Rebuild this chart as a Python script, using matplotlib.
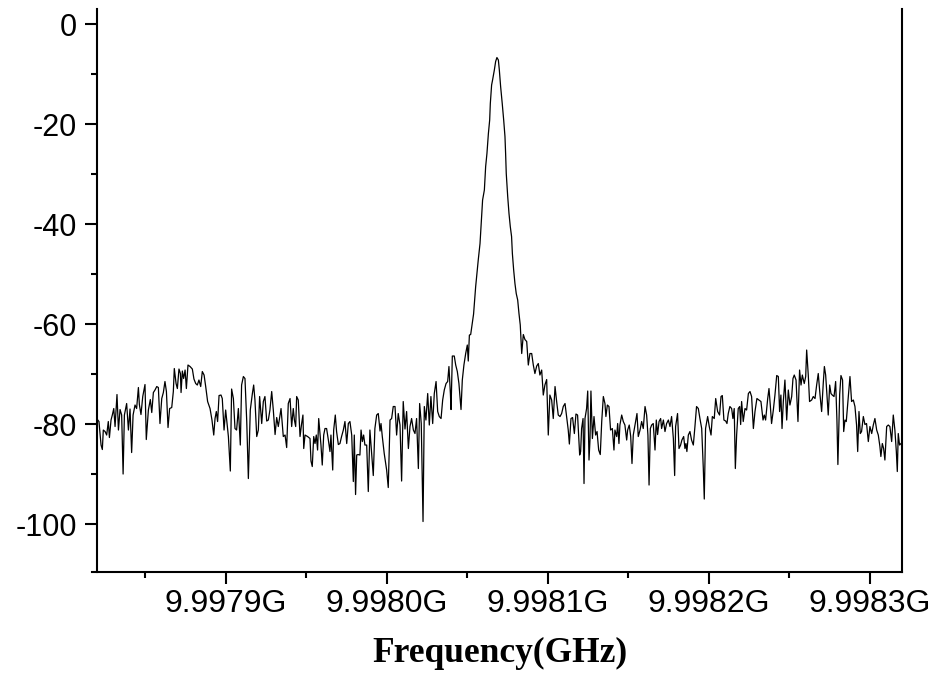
import matplotlib
matplotlib.use('Agg')
import matplotlib.pyplot as plt
import numpy as np
from matplotlib.ticker import FixedLocator, FuncFormatter

plt.rcParams['font.family'] = ['Liberation Sans', 'DejaVu Sans']
plt.rcParams['axes.unicode_minus'] = False

# sweep start (GHz); trace offsets are in kHz from here
start_ghz = 9.99782
stop_ghz = 9.99832

# noise floor, left part
seg_a_khz = [0.0, 1.2, 2.5, 3.3, 3.9, 5.0, 6.0, 7.0, 7.7, 8.7, 9.5, 10.4, 11.2, 12.4, 13.3, 14.3,
             15.3, 16.2, 17.0, 18.4, 19.5, 20.5, 21.5, 22.4, 23.6, 24.6, 25.7, 26.3, 27.3, 28.4,
             29.8, 30.6, 31.9, 33.1, 34.0, 35.0, 36.0, 37.1, 38.1, 39.1, 40.2, 41.2, 42.2, 43.1,
             44.1, 45.1, 46.4, 47.4, 48.0, 49.1, 49.9, 50.9, 51.8, 52.2, 53.0, 53.8, 54.7, 55.5,
             56.5, 57.8, 59.2, 60.2, 61.3, 62.3, 63.3, 64.4, 65.4, 66.5, 67.5, 68.7, 70.2, 71.4,
             72.5, 73.3, 74.1, 74.9, 75.8, 77.0, 77.8, 78.9, 79.9, 81.6, 82.8, 83.6, 84.7, 85.7,
             86.7, 87.8, 89.0, 89.8, 90.9, 91.9, 93.0, 94.0, 95.2, 96.5, 97.3, 98.1, 99.2, 100.2,
             101.0]
seg_a_dbm = [-79.0, -79.5, -84.2, -85.1, -81.2, -81.5, -82.2, -79.5, -82.7, -79.2, -78.2, -76.9,
             -80.5, -74.1, -81.2, -77.1, -78.2, -90.0, -78.2, -75.9, -81.2, -77.0, -85.7, -78.2,
             -76.2, -76.9, -72.7, -76.1, -78.1, -74.5, -72.1, -83.1, -77.2, -75.1, -77.7, -73.7,
             -73.2, -72.5, -72.7, -79.9, -74.9, -73.7, -71.5, -73.5, -80.7, -76.9, -76.7, -73.5,
             -68.9, -71.9, -72.9, -69.0, -69.9, -73.7, -69.4, -70.9, -69.2, -72.9, -68.2, -68.5,
             -69.0, -71.0, -71.9, -72.2, -71.2, -72.5, -69.5, -70.2, -72.5, -75.5, -76.9, -79.2,
             -82.2, -78.9, -77.5, -79.5, -74.3, -74.2, -74.9, -81.2, -77.2, -82.5, -89.4, -73.0,
             -74.9, -80.9, -81.2, -76.9, -84.2, -72.2, -70.5, -70.9, -79.5, -90.9, -77.2, -73.9,
             -72.2, -75.2, -82.5, -81.2, -74.5]

seg_b_khz = [102.3, 103.3, 104.3, 105.4, 106.4, 107.4, 108.5, 109.5, 110.6, 111.6, 112.6, 114.3,
             115.7, 116.8, 117.8, 118.8, 119.9, 120.9, 121.9, 122.6, 123.4, 124.0, 125.0, 126.1,
             127.1, 127.9, 128.4, 129.2, 130.8, 132.3, 132.9, 133.7, 134.6, 135.4, 136.2, 137.0,
             137.7, 138.3, 139.1, 139.9, 140.8, 141.6, 142.6, 143.7, 144.7, 145.3, 146.4, 147.0,
             148.0, 148.8, 149.9, 150.9, 151.9, 153.0, 154.0, 155.1, 156.1, 157.1, 158.2, 159.2,
             159.8, 160.6, 161.3, 162.1, 163.3, 164.0, 164.8, 165.6, 166.4, 167.5, 168.5, 169.5,
             170.6, 171.6, 172.6, 173.7, 174.7, 175.8, 176.4, 177.2, 178.4, 179.9, 180.9, 182.0,
             183.0, 184.0, 185.1, 186.1, 187.1, 188.2, 189.2, 190.2, 191.3, 192.3, 193.4, 194.4,
             195.4, 196.5, 197.5, 198.5, 199.6, 200.4]
seg_b_dbm = [-79.9, -75.5, -74.5, -79.4, -79.2, -77.2, -73.5, -77.2, -82.1, -78.7, -80.5, -76.9,
             -82.5, -82.2, -84.7, -75.9, -74.9, -80.5, -76.9, -79.2, -80.5, -74.5, -75.2, -82.5,
             -79.9, -78.2, -84.9, -82.2, -82.5, -82.9, -87.4, -88.5, -82.5, -83.9, -82.2, -85.2,
             -78.9, -81.2, -84.2, -88.2, -82.2, -80.9, -80.9, -83.2, -85.5, -82.2, -89.2, -81.2,
             -78.2, -81.5, -84.1, -83.9, -82.5, -81.2, -79.5, -83.9, -79.9, -79.5, -82.2, -91.5,
             -82.2, -94.1, -86.2, -86.1, -86.2, -81.2, -83.5, -82.2, -84.2, -84.2, -93.5, -81.2,
             -85.9, -90.3, -80.9, -78.2, -77.9, -81.4, -79.9, -82.5, -85.9, -89.2, -92.7, -79.2,
             -78.9, -76.5, -76.5, -82.2, -77.9, -80.2, -91.4, -75.5, -81.0, -77.5, -84.9, -80.5,
             -78.9, -81.2, -81.9, -78.9, -88.9, -75.9]

# rising skirt
seg_c_khz = [201.4, 202.5, 203.3, 204.3, 205.4, 206.4, 207.4, 208.5, 209.5, 210.6, 211.6, 212.6,
             213.7, 214.7, 215.7, 216.8, 217.8, 218.6, 219.5, 219.9, 220.7, 221.9, 222.8, 223.8,
             224.8, 226.1, 226.9, 227.9, 229.0, 230.0, 230.6, 231.3, 232.1, 233.1, 233.9]
seg_c_dbm = [-79.9, -99.5, -76.5, -79.2, -73.9, -80.2, -74.5, -79.9, -73.9, -71.5, -77.5, -78.5,
             -78.9, -75.2, -73.2, -71.9, -71.5, -68.5, -73.9, -77.1, -66.4, -66.4, -68.2, -69.5,
             -71.9, -77.1, -71.2, -68.2, -65.9, -64.2, -67.4, -62.2, -62.1, -59.9, -58.0]

# carrier
seg_d_khz = [235.2, 235.8, 236.8, 237.9, 238.9, 239.5, 240.6, 241.4, 242.2, 243.1, 243.9, 244.3,
             244.7, 245.1, 245.7, 246.8, 247.6, 248.4, 249.3, 249.9, 250.7, 251.7, 252.6, 253.4,
             253.8, 254.2, 255.1, 255.9, 256.7, 257.5, 258.0, 258.8, 259.6, 260.4, 261.3]
seg_d_dbm = [-52.5, -50.5, -47.2, -43.9, -38.5, -35.2, -33.2, -28.5, -25.9, -21.9, -19.2, -15.9,
             -13.9, -12.2, -11.2, -9.2, -7.5, -6.7, -7.2, -9.2, -12.5, -15.9, -19.2, -22.5,
             -25.9, -29.9, -34.5, -37.9, -40.5, -42.5, -45.9, -49.2, -51.9, -53.9, -55.2]

# falling skirt
seg_e_khz = [262.1, 262.9, 263.8, 264.8, 265.8, 266.9, 267.9, 268.9, 270.0, 271.0, 272.0, 273.1,
             274.1, 275.1, 276.2, 277.2, 278.2, 279.3, 280.3, 281.3, 282.4, 283.4, 284.5, 285.5,
             286.5, 287.6, 288.6, 289.6, 290.7, 291.7, 292.7, 293.4, 294.4, 295.4, 296.5, 297.5,
             298.5, 299.8]
seg_e_dbm = [-57.9, -60.2, -65.9, -62.1, -63.1, -63.5, -68.2, -65.9, -65.9, -68.2, -69.9, -68.4,
             -67.9, -70.2, -69.2, -74.2, -72.2, -71.1, -82.2, -74.2, -75.2, -78.9, -72.5, -75.5,
             -78.2, -78.5, -77.9, -76.5, -75.9, -78.5, -81.2, -84.0, -78.9, -78.7, -81.9, -78.0,
             -78.2, -86.2]

# noise floor, right part
seg_f_khz = [300.4, 301.0, 301.9, 302.5, 303.1, 304.1, 304.8, 305.6, 306.2, 306.8, 307.7, 308.7,
             309.7, 310.6, 311.6, 312.6, 313.5, 314.5, 315.5, 316.1, 317.0, 318.0, 319.0, 320.1,
             321.1, 321.7, 322.8, 323.4, 324.2, 324.8, 325.9, 326.9, 327.9, 329.0, 329.6, 330.6,
             331.5, 332.3, 333.1, 334.2, 335.4, 336.2, 337.3, 338.3, 339.3, 340.4, 341.4, 342.2,
             342.9, 343.7, 344.5, 345.5, 346.6, 347.4, 348.2, 349.1, 350.1, 350.7, 351.8, 352.8,
             353.8, 354.9, 355.9, 356.9, 358.0, 358.8, 359.4, 360.6, 361.5, 362.5, 363.3, 364.4,
             365.2, 365.8, 366.4, 367.3, 368.3, 369.3, 370.4, 371.4, 372.4, 373.5, 374.5, 375.6,
             376.6, 377.2, 378.0, 379.3, 380.3, 381.4, 382.2, 383.4, 384.3, 385.5, 386.7, 387.6,
             388.4, 389.4, 390.5, 391.3, 392.1, 393.1, 394.2, 395.0, 395.8, 396.5, 397.3, 398.3,
             399.2]
seg_f_dbm = [-85.5, -80.9, -78.9, -91.9, -78.9, -76.9, -73.4, -87.2, -83.2, -73.4, -82.9, -78.5,
             -82.2, -81.5, -85.2, -86.1, -79.5, -74.5, -75.9, -78.5, -76.2, -76.5, -81.2, -80.9,
             -85.2, -81.2, -82.5, -79.9, -83.9, -80.2, -78.2, -79.5, -80.2, -83.2, -81.2, -80.2,
             -82.5, -87.9, -82.2, -80.2, -77.9, -82.5, -81.2, -79.5, -80.9, -76.5, -78.2, -82.2,
             -92.2, -80.9, -80.2, -79.9, -85.2, -79.2, -82.1, -79.5, -78.9, -80.9, -79.2, -81.5,
             -79.9, -79.2, -80.5, -78.5, -82.9, -90.3, -80.5, -77.9, -84.9, -84.2, -83.2, -82.5,
             -84.9, -83.9, -85.5, -82.2, -81.5, -83.2, -84.2, -80.5, -76.5, -76.9, -78.9, -80.9,
             -88.9, -95.0, -80.9, -78.5, -80.5, -82.2, -78.5, -78.9, -74.9, -77.5, -78.2, -74.5,
             -74.3, -79.2, -79.4, -79.9, -77.9, -76.5, -76.9, -78.9, -76.9, -88.9, -82.2, -76.9,
             -76.5]

seg_g_khz = [399.8, 400.4, 401.4, 402.5, 403.5, 404.6, 405.6, 406.6, 407.7, 408.7, 409.9, 411.2,
             412.4, 413.7, 414.5, 415.3, 416.6, 417.4, 418.2, 419.0, 420.1, 421.1, 422.2, 423.2,
             424.0, 424.8, 425.5, 426.3, 427.3, 428.4, 429.4, 430.4, 431.5, 432.3, 433.1, 434.2,
             435.4, 436.4, 437.3, 438.1, 439.3, 440.2, 440.8, 441.8, 442.6, 443.9, 444.9, 446.0,
             447.0, 448.0, 449.1, 450.1, 451.1, 451.8, 452.6, 453.4, 454.2, 455.1, 455.9, 456.7,
             457.8, 458.8, 459.6, 460.2, 461.3, 462.1, 463.1, 463.8, 464.6, 465.4, 466.7, 467.7,
             468.7, 469.8, 470.8, 471.8, 472.5, 473.3, 474.1, 474.9, 476.0, 477.0, 478.0, 479.1,
             480.1, 481.2, 482.2, 483.2, 484.3, 485.3, 486.3, 486.9, 487.8, 488.6, 489.4, 490.5,
             491.5, 492.5, 493.6, 494.6, 495.6, 496.5, 497.1, 497.7, 498.5, 499.4]
seg_g_dbm = [-80.1, -75.5, -79.5, -76.9, -77.2, -73.9, -73.5, -74.5, -80.9, -77.5, -74.9, -75.2,
             -75.5, -79.2, -78.2, -79.2, -74.9, -72.9, -76.2, -79.9, -77.2, -74.2, -70.3, -70.5,
             -77.5, -74.2, -80.9, -75.5, -71.2, -79.2, -73.2, -76.2, -74.5, -70.9, -70.2, -71.2,
             -79.5, -69.2, -72.2, -70.2, -71.9, -70.5, -65.2, -70.2, -75.5, -75.2, -74.5, -74.9,
             -72.2, -69.9, -74.2, -77.5, -71.9, -68.5, -70.2, -74.2, -78.2, -72.2, -73.9, -74.2,
             -74.5, -71.5, -79.2, -88.1, -74.1, -70.3, -71.2, -81.5, -79.2, -79.5, -74.5, -70.5,
             -75.5, -75.2, -76.5, -80.2, -85.5, -77.5, -81.9, -81.5, -78.5, -80.1, -79.9, -83.5,
             -80.5, -81.9, -80.2, -78.9, -81.2, -82.2, -84.5, -86.5, -83.9, -84.9, -87.2, -80.5,
             -80.2, -80.5, -83.5, -78.2, -81.2, -85.5, -89.5, -81.9, -84.2, -83.9]

x_ticks = [9.9979, 9.9980, 9.9981, 9.9982, 9.9983]
x_minor = [9.99785, 9.99795, 9.99805, 9.99815, 9.99825]
y_ticks = [-100, -80, -60, -40, -20, 0]
y_minor = [-90, -70, -50, -30, -10]

freq_khz = seg_a_khz + seg_b_khz + seg_c_khz + seg_d_khz + seg_e_khz + seg_f_khz + seg_g_khz
level_dbm = seg_a_dbm + seg_b_dbm + seg_c_dbm + seg_d_dbm + seg_e_dbm + seg_f_dbm + seg_g_dbm
assert len(freq_khz) == len(level_dbm), (len(freq_khz), len(level_dbm))
freq_ghz = start_ghz + np.array(freq_khz) * 1e-6

fig = plt.figure(figsize=(9.42, 6.84), dpi=100)
ax = fig.add_axes([0.103, 0.1637, 0.8545, 0.8231])
ax.plot(freq_ghz, level_dbm, color='black', lw=0.9)

ax.set_xlim(start_ghz, stop_ghz)
ax.set_ylim(-109.6, 3)
ax.xaxis.set_major_locator(FixedLocator(x_ticks))
ax.xaxis.set_minor_locator(FixedLocator(x_minor))
ax.xaxis.set_major_formatter(FuncFormatter(lambda v, p: '{:.4f}G'.format(v)))
ax.yaxis.set_major_locator(FixedLocator(y_ticks))
ax.yaxis.set_minor_locator(FixedLocator(y_minor))

ax.spines['top'].set_visible(False)
for s in ['left', 'right', 'bottom']:
    ax.spines[s].set_linewidth(1.5)
ax.spines['bottom'].set_bounds(start_ghz - 3e-6, stop_ghz)

ax.tick_params(which='major', direction='out', length=8.6, width=1.5)
ax.tick_params(which='minor', direction='out', length=4.5, width=1.5)
ax.tick_params(axis='x', which='major', labelsize=23, pad=3.5)
ax.tick_params(axis='y', which='major', labelsize=22, pad=6)
ax.tick_params(right=False, top=False, which='both')

ax.set_xlabel('Frequency(GHz)', family=['Liberation Serif', 'DejaVu Serif'],
              fontweight='bold', fontsize=25.5, labelpad=13)

fig.savefig('out.png', dpi=100)
